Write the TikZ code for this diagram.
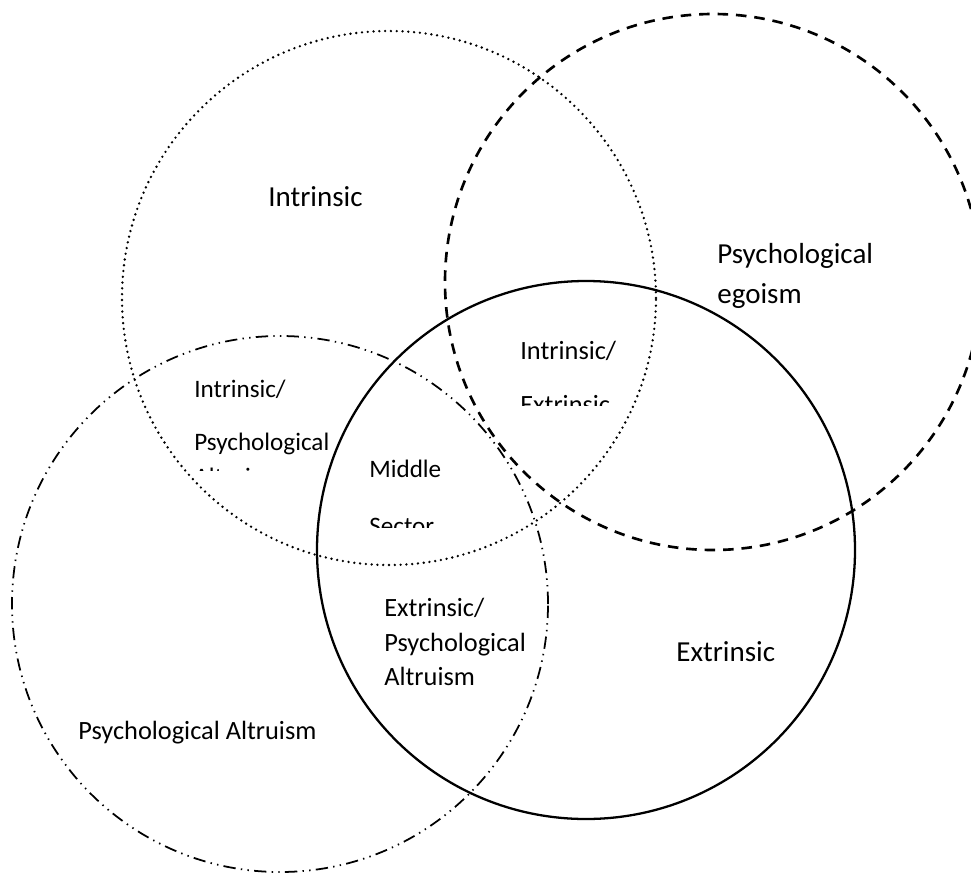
\documentclass[tikz,border=0pt]{standalone}
\usepackage{fontspec}
\setmainfont{Carlito}
\begin{document}
\begin{tikzpicture}[
  lbl/.style={anchor=base west,inner sep=0pt},
  bigtext/.style={lbl,font=\fontsize{16.5}{20}\selectfont},
  midtext/.style={lbl,font=\fontsize{15}{18}\selectfont},
  smalltext/.style={lbl,font=\fontsize{14.3}{17}\selectfont}
]
\clip (0,0) rectangle (19.42,-17.46);
% the four sets
\draw[line width=1.5pt,line cap=round,dash pattern=on 0pt off 3.3pt] (7.78,-5.96) circle (5.34);
\draw[line width=1.5pt,dash pattern=on 6pt off 4.5pt] (14.26,-5.64) circle (5.36);
\draw[line width=1.3pt] (11.72,-11.0) circle (5.38);
\draw[line width=1pt,dash pattern=on 7pt off 3pt on 0.8pt off 3pt on 0.8pt off 3pt] (5.6,-12.08) circle (5.36);
% outer labels
\node[bigtext] (intr) at (5.36,-4.12) {Intrinsic};
\node[bigtext] (ego1) at (14.34,-5.26) {Psychological};
\node[bigtext] (ego2) at (14.34,-6.06) {egoism};
\node[bigtext] (extr) at (13.52,-13.22) {Extrinsic};
\node[midtext] (alt) at (1.56,-14.78) {Psychological Altruism};
% overlaps
\begin{scope}
\clip (10.2,-6.6) rectangle (13.0,-8.10);
\node[midtext] (ie1) at (10.40,-7.18) {Intrinsic/};
\node[midtext] (ie2) at (10.40,-8.26) {Extrinsic};
\end{scope}
\begin{scope}
\clip (3.6,-7.4) rectangle (7.0,-9.40);
\node[smalltext] (ia1) at (3.88,-7.94) {Intrinsic/};
\node[smalltext] (ia2) at (3.88,-9.00) {Psychological};
\node[smalltext] (ia3) at (3.88,-9.70) {Altruism};
\end{scope}
\begin{scope}
\clip (7.2,-8.9) rectangle (9.4,-10.54);
\node[smalltext] (mid1) at (7.38,-9.54) {Middle};
\node[smalltext] (mid2) at (7.38,-10.68) {Sector};
\end{scope}
\node[midtext] (ea1) at (7.68,-12.32) {Extrinsic/};
\node[midtext] (ea2) at (7.68,-13.02) {Psychological};
\node[midtext] (ea3) at (7.68,-13.70) {Altruism};
\end{tikzpicture}
\end{document}
